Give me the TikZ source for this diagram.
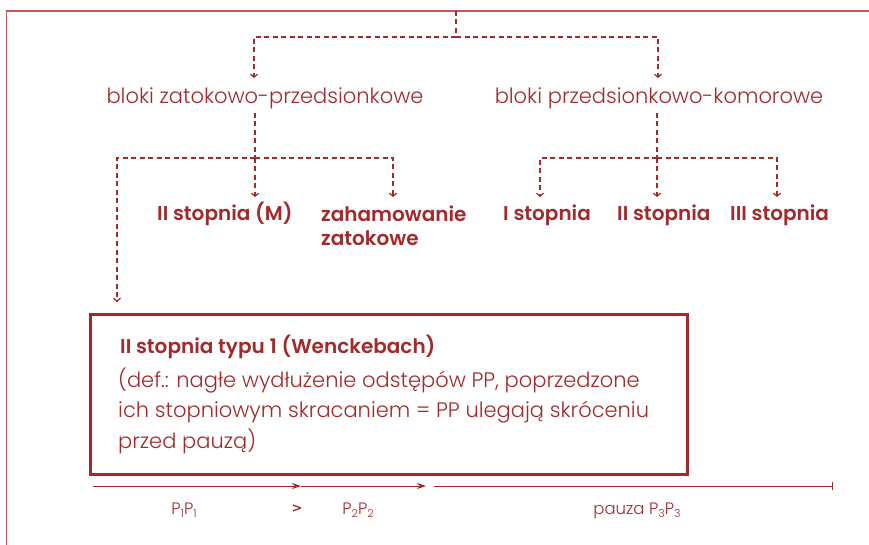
\documentclass[tikz,border=0pt]{standalone}
\usepackage{fontspec}
\setmainfont{Poppins}[UprightFont=* Light, BoldFont=* SemiBold]
\newfontfamily\symfont{DejaVu Sans}
\usetikzlibrary{arrows.meta}
\definecolor{ink}{HTML}{A3292B}
\definecolor{rule}{HTML}{C0585B}
\newcommand{\lowidx}[1]{\raisebox{-3.5pt}{\fontsize{11}{12}\selectfont #1}}
\begin{document}
\begin{tikzpicture}[x=1pt,y=-1pt,
  conn/.style={draw=ink, line width=1.3pt, dash pattern=on 5pt off 3.5pt},
  tip/.style={-{Straight Barb[length=3pt,width=7pt,line width=1.2pt]}},
  lbl/.style={text=ink, font=\fontsize{21}{24}\selectfont, inner sep=0pt, anchor=base},
  hd/.style={text=ink, font=\bfseries\fontsize{20}{24}\selectfont, inner sep=0pt, anchor=base west, align=left},
  small/.style={text=ink, font=\fontsize{16.5}{18}\selectfont, inner sep=0pt, anchor=base},
  frame/.style={draw=ink, line width=3pt, minimum width=597pt, minimum height=160pt, inner sep=0pt},
  axis/.style={draw=ink, line width=0.9pt}]
\useasboundingbox (0,0) rectangle (869,545);

% outer rule
\draw[rule, line width=1.6pt] (6.5,545) -- (6.5,11) -- (869,11);

% first level
\coordinate (root) at (456,11);
\node[lbl] (zp) at (265,104) {bloki zatokowo-przedsionkowe};
\node[lbl] (pk) at (659,104) {bloki przedsionkowo-komorowe};
\coordinate (zpin) at (254,78);
\coordinate (pkin) at (658,78);
\draw[conn] (root) -- (456,37);
\draw[conn,tip] (456,37) -| (zpin);
\draw[conn,tip] (456,37) -| (pkin);

% sinoatrial branch (multi-line nodes sit on their last baseline)
\node[hd] (m) at (157,221) {II stopnia (M)};
\node[hd] (za) at (321,245) {zahamowanie\\zatokowe};
\coordinate (zpout) at (255,113);
\coordinate (jz) at (255,158);
\coordinate (min) at (255,197);
\coordinate (zain) at (393,197);
\coordinate (wbin) at (117,302);
\draw[conn] (zpout) -- (jz);
\draw[conn,tip] (jz) -- (min);
\draw[conn,tip] (jz) -| (zain);
\draw[conn,tip] (jz) -| (wbin);

% atrioventricular branch
\node[hd] (s1) at (503,221) {I stopnia};
\node[hd] (s2) at (617,221) {II stopnia};
\node[hd] (s3) at (730,221) {III stopnia};
\coordinate (pkout) at (657,113);
\coordinate (jp) at (657,158);
\coordinate (s1in) at (540,197);
\coordinate (s2in) at (657,197);
\coordinate (s3in) at (777,197);
\draw[conn] (pkout) -- (jp);
\draw[conn,tip] (jp) -- (s2in);
\draw[conn,tip] (jp) -| (s1in);
\draw[conn,tip] (jp) -| (s3in);

% Wenckebach box
\node[frame] (wb) at (388.5,394) {};
\node[hd] (wt) at (120,353) {II stopnia typu 1 (Wenckebach)};
\node[text=ink, font=\fontsize{21}{30.5}\selectfont, inner sep=0pt, anchor=base west, align=left] (wd) at (118,448)
  {(def.: nagłe wydłużenie odstępów PP, poprzedzone\\ich stopniowym skracaniem = PP ulegają skróceniu\\przed pauzą)};

% PP intervals
\coordinate (t0) at (93,486);
\coordinate (t1) at (301,486);
\coordinate (t2) at (426,486);
\coordinate (t3) at (434,486);
\coordinate (t4) at (833,486);
\draw[axis,-{Stealth[length=9pt,width=6pt]}] (t0) -- (t1);
\draw[axis,-{Stealth[length=9pt,width=6pt]}] (t1) -- (t2);
\draw[axis,-{Bar[width=8pt,line width=0.9pt]}] (t3) -- (t4);
\node[small] (p1) at (184,514) {P\lowidx{1}P\lowidx{1}};
\node[text=ink, font=\symfont\bfseries\fontsize{13}{15}\selectfont, inner sep=0pt, anchor=base] (gt) at (297,512) {>};
\node[small] (p2) at (358,514) {P\lowidx{2}P\lowidx{2}};
\node[small] (p3) at (637,514) {pauza P\lowidx{3}P\lowidx{3}};
\end{tikzpicture}
\end{document}
